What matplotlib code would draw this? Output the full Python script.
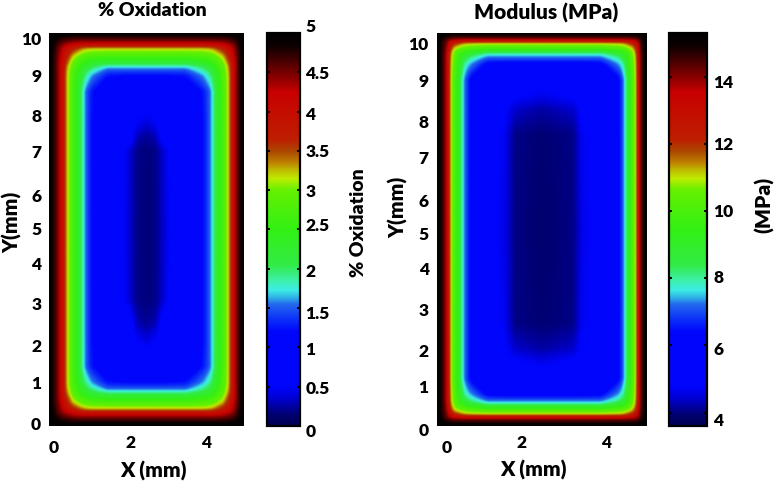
import numpy as np
import matplotlib
matplotlib.use("Agg")
import matplotlib.pyplot as plt
from matplotlib.colors import LinearSegmentedColormap

W, H = 776, 484
plt.rcParams['font.family'] = ['Lato', 'DejaVu Sans']
plt.rcParams['font.weight'] = 'heavy'

# colour scale (fraction of bar, rgb)
cmap_stops = [0.0, 0.03, 0.07, 0.10, 0.24, 0.27, 0.31, 0.325, 0.345, 0.37, 0.41, 0.50,
              0.60, 0.63, 0.65, 0.67, 0.70, 0.73, 0.85, 0.88, 0.93, 0.97, 1.0]
cmap_rgb = [(0, 0, 80), (0, 0, 115), (0, 0, 210), (0, 5, 252), (0, 5, 252), (10, 45, 248),
            (35, 105, 238), (45, 170, 230), (60, 235, 230), (60, 240, 170), (50, 235, 70),
            (50, 240, 20), (100, 240, 0), (190, 235, 0), (190, 190, 0), (190, 130, 0),
            (170, 70, 0), (190, 30, 0), (200, 0, 0), (150, 0, 0), (70, 0, 0), (10, 0, 0), (0, 0, 0)]

# % oxidation, lower left quarter of the sample (other quarters are mirrored)
ox_x = [0, .15, .3, .45, .6, .8, .88, .95, 1.1, 1.5, 2.05, 2.25, 2.5,
        2.75, 2.95, 3.5, 3.95, 4.12, 4.2, 4.26, 4.47, 4.62, 4.75, 4.87, 5]
ox_y = [0, .15, .3, .42, .6, .8, .88, .95, 1.1, 1.5, 2.2, 2.6, 3.2, 5,
        7.0, 7.35, 7.7, 8.5, 8.9, 9.05, 9.13, 9.2, 9.4, 9.6, 9.7, 9.85, 10]
ox_quarter = [
    [5, 5, 5, 5, 5, 5, 5, 5, 5, 5, 5, 5, 5],
    [5, 4.9, 4.8, 4.75, 4.7, 4.7, 4.7, 4.7, 4.7, 4.7, 4.7, 4.7, 4.7],
    [5, 4.8, 4.55, 4.4, 4.3, 4.2, 4.2, 4.2, 4.2, 4.2, 4.2, 4.2, 4.2],
    [5, 4.75, 4.4, 4.05, 3.75, 3.45, 3.35, 3.3, 3.25, 3.25, 3.25, 3.25, 3.25],
    [5, 4.7, 4.3, 3.75, 3.25, 2.95, 2.9, 2.85, 2.8, 2.75, 2.75, 2.75, 2.75],
    [5, 4.7, 4.2, 3.45, 2.95, 2.6, 2.5, 2.4, 2.25, 2.1, 2.1, 2.1, 2.1],
    [5, 4.7, 4.2, 3.35, 2.9, 2.5, 2.35, 2.25, 2.05, 1.75, 1.75, 1.75, 1.75],
    [5, 4.7, 4.2, 3.3, 2.85, 2.4, 2.25, 2.1, 1.88, 1.5, 1.5, 1.5, 1.5],
    [5, 4.7, 4.2, 3.25, 2.8, 2.25, 2.05, 1.88, 1.6, 1.25, 1.2, 1.2, 1.2],
    [5, 4.7, 4.2, 3.25, 2.75, 2.1, 1.75, 1.5, 1.25, .9, .8, .8, .8],
    [5, 4.7, 4.2, 3.25, 2.75, 2.1, 1.75, 1.5, 1.2, .9, .7, .5, .38],
    [5, 4.7, 4.2, 3.25, 2.75, 2.1, 1.75, 1.5, 1.2, .9, .7, .3, .22],
    [5, 4.7, 4.2, 3.25, 2.75, 2.1, 1.75, 1.5, 1.2, .9, .38, .2, .17],
    [5, 4.7, 4.2, 3.25, 2.75, 2.1, 1.75, 1.5, 1.2, .9, .36, .2, .16],
]

# modulus in MPa, same layout
mod_x = [0, .14, .24, .31, .4, .55, .6, .66, .8, 1.2, 1.6, 1.85, 2.5,
         3.25, 3.45, 3.9, 4.33, 4.44, 4.49, 4.53, 4.66, 4.76, 4.81, 4.88, 5]
mod_y = [0, .12, .2, .28, .4, .52, .58, .64, .8, 1.2, 1.6, 1.95, 2.6, 5,
         7.4, 8.05, 8.4, 8.8, 9.2, 9.36, 9.44, 9.5, 9.6, 9.74, 9.8, 9.88, 10]
mod_quarter = [
    [15.3, 15.3, 15.3, 15.3, 15.3, 15.3, 15.3, 15.3, 15.3, 15.3, 15.3, 15.3, 15.3],
    [15.3, 15, 14.8, 14.7, 14.6, 14.6, 14.6, 14.6, 14.6, 14.6, 14.6, 14.6, 14.6],
    [15.3, 14.8, 14.2, 14, 13.9, 13.8, 13.7, 13.7, 13.7, 13.7, 13.7, 13.7, 13.7],
    [15.3, 14.7, 14.1, 13.2, 12.4, 11.8, 11.6, 11.4, 11.3, 11.2, 11.2, 11.2, 11.2],
    [15.3, 14.6, 13.9, 12.3, 11.1, 10.7, 10.6, 10.5, 10.4, 10.2, 10.2, 10.2, 10.2],
    [15.3, 14.6, 13.7, 11.7, 10.7, 9.9, 9.7, 9.5, 9.2, 8.6, 8.6, 8.6, 8.6],
    [15.3, 14.6, 13.6, 11.5, 10.6, 9.6, 9.3, 9, 8.6, 7.7, 7.7, 7.7, 7.7],
    [15.3, 14.6, 13.5, 11.4, 10.5, 9.4, 9, 8.7, 8.1, 7.2, 7.2, 7.2, 7.2],
    [15.3, 14.6, 13.5, 11.3, 10.4, 9, 8.5, 7.9, 7.4, 6.3, 6.2, 6.2, 6.2],
    [15.3, 14.6, 13.5, 11.2, 10.2, 8.6, 7.7, 7.2, 6.3, 5.2, 5, 5, 5],
    [15.3, 14.6, 13.5, 11.2, 10.2, 8.6, 7.7, 7.2, 6.3, 5.2, 5, 4.9, 4.65],
    [15.3, 14.6, 13.5, 11.2, 10.2, 8.6, 7.7, 7.2, 6.3, 5.1, 4.9, 4.4, 4.2],
    [15.3, 14.6, 13.5, 11.2, 10.2, 8.6, 7.7, 7.2, 6.3, 5, 4.7, 4.05, 3.95],
    [15.3, 14.6, 13.5, 11.2, 10.2, 8.6, 7.7, 7.2, 6.3, 5, 4.6, 4.05, 3.9],
]

# tick labels sit a little off the true tick places in the original
y_labels = ['0', '1', '2', '3', '4', '5', '6', '7', '8', '9', '10']
ox_ylab_pos = [.03, 1.07, 2.01, 3.08, 4.10, 4.99, 5.83, 6.95, 7.86, 8.88, 9.82]
mod_ylab_pos = [-.13, .97, 1.88, 2.93, 3.97, 4.86, 5.70, 6.79, 7.71, 8.75, 9.69]
x_labels = ['0', '2', '4']
ox_xlab_pos = [.13, 2.08, 4.03]
mod_xlab_pos = [.24, 2.02, 4.02]
x_lab_offset = [.55, .44, .44]

ox_ticks = [0, .5, 1, 1.5, 2, 2.5, 3, 3.5, 4, 4.5, 5]
ox_tick_labels = ['0', '0.5', '1', '1.5', '2', '2.5', '3', '3.5', '4', '4.5', '5']
ox_cb_pos = [-.08, .47, .97, 1.43, 1.96, 2.55, 2.98, 3.49, 3.96, 4.48, 5.08]
mod_ticks = [4, 6, 8, 10, 12, 14]
mod_tick_labels = ['4', '6', '8', '10', '12', '14']
mod_cb_pos = [3.75, 5.85, 8.02, 9.98, 11.97, 13.8]


def px_axes(fig, left, right, top, bottom):
    return fig.add_axes([left / W, 1 - bottom / H, (right - left) / W, (bottom - top) / H])


def soften(a, n=9, passes=2):
    # the picture is a blurred scan, also takes the chamfer off the corners
    kernel = np.ones(n) / n
    for _ in range(passes):
        a = np.pad(a, n, mode='edge')
        a = np.apply_along_axis(lambda m: np.convolve(m, kernel, mode='same'), 0, a)
        a = np.apply_along_axis(lambda m: np.convolve(m, kernel, mode='same'), 1, a)
        a = a[n:-n, n:-n]
    return a


def full_field(quarter, xs, ys):
    q = np.array(quarter, dtype=float)
    q = np.hstack([q, q[:, -2::-1]])
    q = np.vstack([q, q[-2::-1]])
    # resample the hand read table so the colour bands keep their shape
    xf = np.linspace(0, 5, 500)
    yf = np.linspace(0, 10, 1000)
    rows = np.array([np.interp(xf, xs, r) for r in q])
    return soften(np.array([np.interp(yf, ys, c) for c in rows.T]).T)


def draw_panel(fig, box, cbox, field, vmin, vmax, ylab_pos, xlab_pos, ticks, tick_labels, cb_pos):
    ax = px_axes(fig, *box)
    im = ax.imshow(field, origin='lower', extent=[0, 5, 0, 10], aspect='auto',
                   cmap=jetish, vmin=vmin, vmax=vmax, interpolation='bilinear')
    ax.set_xticks([])
    ax.set_yticks([])
    for s in ax.spines.values():
        s.set_visible(False)
    for lab, p in zip(y_labels, ylab_pos):
        ax.text(-0.2, p, lab, ha='right', va='center', fontsize=TICK_FS, clip_on=False)
    for lab, p, off in zip(x_labels, xlab_pos, x_lab_offset):
        ax.text(p, -off, lab, ha='center', va='center', fontsize=TICK_FS, clip_on=False)

    cax = px_axes(fig, *cbox)
    cb = fig.colorbar(im, cax=cax)
    cb.outline.set_linewidth(1.6)
    cb.outline.set_edgecolor('black')
    cb.set_ticks(ticks, labels=[''] * len(ticks))
    cax.tick_params(axis='y', left=True, right=True, direction='in', length=2.5, width=1.4, color='black')
    for lab, p in zip(tick_labels, cb_pos):
        cax.text(1.16, p, lab, transform=cax.get_yaxis_transform(), ha='left', va='center',
                 fontsize=TICK_FS, clip_on=False)


TICK_FS = 12.5
TITLE_FS = 14
AXIS_FS = 15
jetish = LinearSegmentedColormap.from_list(
    'jetish', [(s, tuple(c / 255 for c in rgb)) for s, rgb in zip(cmap_stops, cmap_rgb)], N=1024)

fig = plt.figure(figsize=(W / 100, H / 100), dpi=100)

draw_panel(fig, (49, 244, 33, 426), (267, 300, 33, 426), full_field(ox_quarter, ox_x, ox_y),
           0, 5, ox_ylab_pos, ox_xlab_pos, ox_ticks, ox_tick_labels, ox_cb_pos)
draw_panel(fig, (437, 647, 33, 426), (669, 707, 33, 426), full_field(mod_quarter, mod_x, mod_y),
           3.6, 15.3, mod_ylab_pos, mod_xlab_pos, mod_ticks, mod_tick_labels, mod_cb_pos)


def px_text(x, y, s, size=AXIS_FS, **kw):
    fig.text(x / W, 1 - y / H, s, ha='center', va='center', fontsize=size, **kw)


px_text(152, 10, '% Oxidation', size=TITLE_FS)
px_text(546, 13, 'Modulus (MPa)', size=AXIS_FS)
px_text(153, 471, 'X (mm)')
px_text(533, 470, 'X (mm)')
px_text(12, 222, 'Y(mm)', rotation=90)
px_text(398, 207, 'Y(mm)', rotation=90)
px_text(358, 223, '% Oxidation', size=TITLE_FS, rotation=90)
px_text(764, 205, '(MPa)', rotation=90)

fig.savefig('out.png', dpi=100)
